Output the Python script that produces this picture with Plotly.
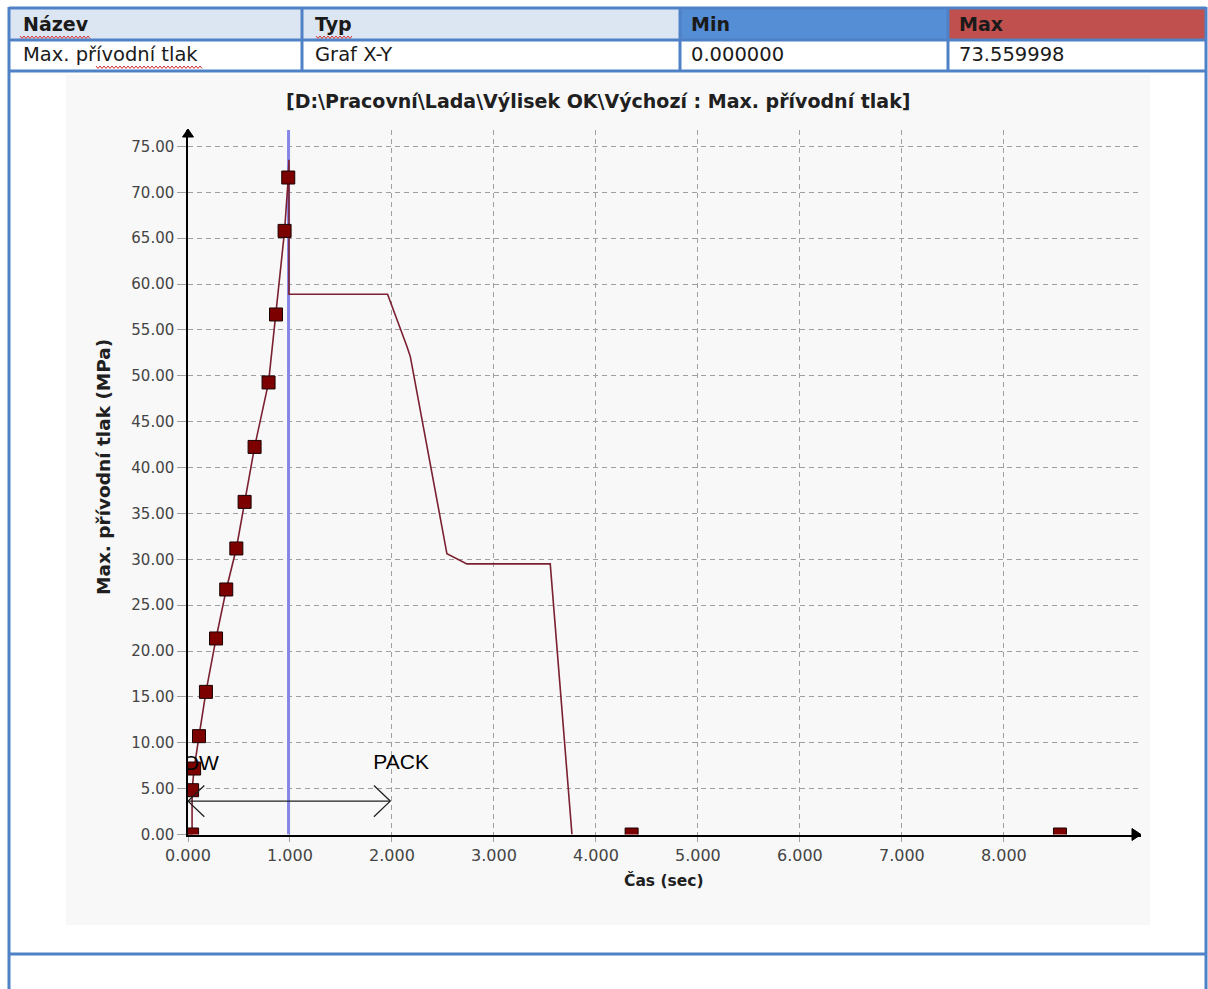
import plotly.graph_objects as go

W, H = 1208, 989

# ---------------- data ----------------
marker_time = [0.04, 0.04, 0.06, 0.108, 0.176, 0.275, 0.375, 0.474, 0.555,
               0.653, 0.79, 0.863, 0.947, 0.983, 4.35, 8.55]
marker_pressure = [0.0, 4.83, 7.19, 10.72, 15.55, 21.37, 26.71, 31.18, 36.26,
                   42.25, 49.28, 56.69, 65.80, 71.62, 0.0, 0.0]

curve_time = [0.0, 0.04, 0.04, 0.06, 0.108, 0.176, 0.275, 0.375, 0.474, 0.555,
              0.653, 0.79, 0.863, 0.947, 0.983, 0.99, 0.99, 1.957, 2.147, 2.18,
              2.539, 2.735, 3.552, 3.765]
curve_pressure = [0.0, 0.0, 4.83, 7.19, 10.72, 15.55, 21.37, 26.71, 31.18, 36.26,
                  42.25, 49.28, 56.69, 65.80, 71.62, 73.56, 58.9, 58.9, 53.2, 52.1,
                  30.6, 29.5, 29.5, 0.0]

switchover_time = 0.986
x_ticks = [0, 1, 2, 3, 4, 5, 6, 7, 8]
y_ticks = [0, 5, 10, 15, 20, 25, 30, 35, 40, 45, 50, 55, 60, 65, 70, 75]
x_max = 9.34
y_max = 76.8

header_labels = ["Název", "Typ", "Min", "Max"]
row_values = ["Max. přívodní tlak", "Graf X-Y", "0.000000", "73.559998"]
chart_title = "[D:\\Pracovní\\Lada\\Výlisek OK\\Výchozí : Max. přívodní tlak]"
x_title = "Čas (sec)"
y_title = "Max. přívodní tlak (MPa)"

pack_arrow = (0.0, 1.983, 3.64)      # x start, x end, y
flow_label = ("FLOW", 0.005, 7.6)
pack_label = ("PACK", 2.09, 7.66)

# ---------------- helpers (screen pixels -> paper) ----------------
def px(x):
    return x / W

def py(y):
    return 1 - y / H

BORDER = "#4f81c7"
FONT = "DejaVu Sans"

fig = go.Figure()

fig.add_trace(go.Scatter(
    x=[switchover_time, switchover_time], y=[0, y_max], mode="lines",
    line=dict(color="#8686e6", width=3), hoverinfo="skip", showlegend=False))

fig.add_trace(go.Scatter(
    x=curve_time, y=curve_pressure, mode="lines",
    line=dict(color="#7a2030", width=1.6), showlegend=False))

fig.add_trace(go.Scatter(
    x=marker_time, y=marker_pressure, mode="markers",
    marker=dict(symbol="square", size=13, color="#7d0000",
                line=dict(color="#1a0000", width=1)),
    showlegend=False))

fig.add_trace(go.Scatter(
    x=[flow_label[1], pack_label[1]], y=[flow_label[2], pack_label[2]],
    text=[flow_label[0], pack_label[0]], mode="text",
    textfont=dict(family="Liberation Sans", size=21, color="#000000"),
    cliponaxis=True, showlegend=False, hoverinfo="skip"))

shapes = []

# table / frame
shapes.append(dict(type="rect", xref="paper", yref="paper", layer="below",
                   x0=px(66), x1=px(1150), y0=py(925), y1=py(75),
                   fillcolor="#f8f8f8", line=dict(width=0)))
header_cells = [(10, 302, "#dce6f2"), (302, 680, "#dce6f2"),
                (680, 948, "#558ed5"), (948, 1205, "#c0504d")]
for x0, x1, c in header_cells:
    shapes.append(dict(type="rect", xref="paper", yref="paper", layer="below",
                       x0=px(x0), x1=px(x1), y0=py(40), y1=py(8),
                       fillcolor=c, line=dict(width=0)))
for yy in [8, 40, 71, 954]:
    shapes.append(dict(type="line", xref="paper", yref="paper",
                       x0=px(9), x1=px(1206), y0=py(yy), y1=py(yy),
                       line=dict(color=BORDER, width=3)))
for xx in [9, 1206]:
    shapes.append(dict(type="line", xref="paper", yref="paper",
                       x0=px(xx), x1=px(xx), y0=py(7), y1=py(995),
                       line=dict(color=BORDER, width=3)))
for xx in [302, 680, 948]:
    shapes.append(dict(type="line", xref="paper", yref="paper",
                       x0=px(xx), x1=px(xx), y0=py(8), y1=py(71),
                       line=dict(color=BORDER, width=3)))

# spell-check wavy underlines
def wavy(x0, x1, y):
    pts = []
    x = x0
    k = 0
    while x <= x1:
        pts.append((x, y + (1.5 if k % 2 else -1.0)))
        x += 2
        k += 1
    return "M " + " L ".join(f"{px(a):.5f},{py(b):.5f}" for a, b in pts)

for a, b, yy in [(20, 90, 37), (316, 352, 37), (96, 203, 67)]:
    shapes.append(dict(type="path", xref="paper", yref="paper", path=wavy(a, b, yy),
                       line=dict(color="#d03030", width=1)))

# axis arrowheads
shapes.append(dict(type="path", xref="paper", yref="paper",
                   path=f"M {px(1141)},{py(834.5)} L {px(1132)},{py(828.5)} L {px(1132)},{py(840.5)} Z",
                   fillcolor="black", line=dict(color="black", width=1)))
shapes.append(dict(type="path", xref="paper", yref="paper",
                   path=f"M {px(188)},{py(129)} L {px(182.5)},{py(137)} L {px(193.5)},{py(137)} Z",
                   fillcolor="black", line=dict(color="black", width=1)))

# PACK double arrow
ax0, ax1, ay = pack_arrow
adx, ady = 0.16, 1.7
shapes.append(dict(type="line", xref="x", yref="y", x0=ax0, x1=ax1, y0=ay, y1=ay,
                   line=dict(color="#202020", width=1.3)))
shapes.append(dict(type="path", xref="x", yref="y",
                   path=f"M {ax1-adx},{ay+ady} L {ax1},{ay} L {ax1-adx},{ay-ady}",
                   line=dict(color="#202020", width=1.3)))
shapes.append(dict(type="path", xref="x", yref="y",
                   path=f"M {ax0+adx},{ay+ady} L {ax0},{ay} L {ax0+adx},{ay-ady}",
                   line=dict(color="#202020", width=1.3)))

annotations = []
for lab, xx in zip(header_labels, [21, 313, 689, 957]):
    annotations.append(dict(text="<b>" + lab + "</b>", x=px(xx), y=py(24), xref="paper",
                            yref="paper", xanchor="left", yanchor="middle", showarrow=False,
                            font=dict(family=FONT, size=19, color="#1a1a1a")))
for val, xx in zip(row_values, [21, 313, 689, 957]):
    annotations.append(dict(text=val, x=px(xx), y=py(55), xref="paper", yref="paper",
                            xanchor="left", yanchor="middle", showarrow=False,
                            font=dict(family=FONT, size=19.5, color="#1a1a1a")))
annotations.append(dict(text="<b>" + chart_title + "</b>", x=px(598), y=py(101),
                        xref="paper", yref="paper", xanchor="center", yanchor="middle",
                        showarrow=False, font=dict(family=FONT, size=19, color="#202020")))
annotations.append(dict(text="<b>" + x_title + "</b>", x=px(664), y=py(880),
                        xref="paper", yref="paper", xanchor="center", yanchor="middle",
                        showarrow=False, font=dict(family=FONT, size=15.5, color="#202020")))
annotations.append(dict(text="<b>" + y_title + "</b>", x=px(103), y=py(467),
                        xref="paper", yref="paper", xanchor="center", yanchor="middle",
                        textangle=-90, showarrow=False,
                        font=dict(family=FONT, size=18.5, color="#202020")))

fig.update_layout(
    template="none",
    width=W, height=H,
    margin=dict(l=0, r=0, t=0, b=0, pad=0),
    paper_bgcolor="white",
    plot_bgcolor="#f8f8f8",
    showlegend=False,
    shapes=shapes,
    annotations=annotations,
    xaxis=dict(domain=[px(188), px(1140.5)], range=[0, x_max], tickvals=x_ticks,
               tickformat=".3f", showgrid=True, gridcolor="#a0a0a0", gridwidth=1,
               griddash="5px,4px", zeroline=False, showline=True, linecolor="black",
               linewidth=2, ticks="outside", ticklen=5, tickcolor="#a0a0a0",
               tickfont=dict(family=FONT, size=16, color="#444444"),
               layer="above traces", automargin=False, fixedrange=True),
    yaxis=dict(domain=[py(834.5), py(130)], range=[0, y_max], tickvals=y_ticks,
               tickformat=".2f", showgrid=True, gridcolor="#a0a0a0", gridwidth=1,
               griddash="5px,4px", zeroline=False, showline=True, linecolor="black",
               linewidth=1.5, ticks="outside", ticklen=9, tickcolor="#a0a0a0",
               tickfont=dict(family=FONT, size=15, color="#444444"),
               automargin=False, fixedrange=True),
)

fig.write_html(
    "out.html",
    config={"displayModeBar": False},
    post_script="document.body.style.margin='0';document.body.style.overflow='hidden';",
)
